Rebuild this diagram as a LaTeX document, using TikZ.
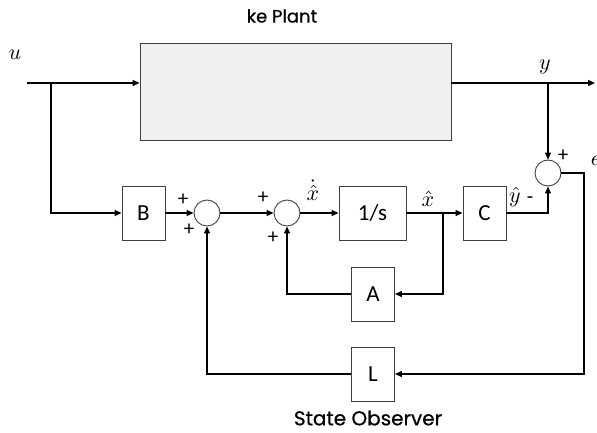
\documentclass[tikz,border=0pt]{standalone}
\usepackage{fontspec}
\setmainfont{Carlito}
\newfontfamily\titlefont{Poppins}[FakeBold=0.6]
\usetikzlibrary{arrows.meta}
\newcommand{\mylbl}[1]{\scalebox{2.2}{$#1$}}
\begin{document}
\begin{tikzpicture}[x=1pt,y=-1pt,
  blk/.style={draw=black!75,line width=0.9pt,minimum width=43pt,minimum height=54pt,inner sep=0pt,font=\fontsize{23}{26}\selectfont},
  sumnode/.style={circle,draw=black!75,line width=0.9pt,minimum size=26pt,inner sep=0pt},
  sig/.style={line width=1.4pt,-{Triangle[length=7pt,width=6pt]}},
  lbl/.style={font=\fontsize{21}{23}\selectfont,inner sep=0pt},
  mlbl/.style={font=\normalsize,inner sep=0pt}]
\useasboundingbox (0,0) rectangle (597,433);
% plant
\node[draw=black!75,fill=black!6,line width=0.9pt,minimum width=311pt,minimum height=97pt,inner sep=0pt] (plant) at (295.5,91.5) {};
\node[font=\titlefont\fontsize{18}{20}\selectfont] (ptitle) at (282,16) {ke Plant};
% blocks
\node[blk] (B) at (143.5,213) {B};
\node[sumnode] (s1) at (207,213) {};
\node[sumnode] (s2) at (287,213) {};
\node[blk,minimum width=67pt] (I) at (372.5,213) {1/s};
\node[blk] (C) at (484.5,213) {C};
\node[sumnode] (s3) at (548,173) {};
\node[blk] (A) at (373,294) {A};
\node[blk] (L) at (373,374) {L};
\node[font=\titlefont\fontsize{20}{22}\selectfont] (sobs) at (368,418) {State Observer};
% coordinates
\coordinate (uin) at (27,83);
\coordinate (ub) at (51,83);
\coordinate (uB) at (51,213);
\coordinate (yb) at (548,83);
\coordinate (yout) at (595,83);
\coordinate (xb) at (443,213);
\coordinate (xbA) at (443,294);
\coordinate (As) at (287,294);
\coordinate (Ls) at (207,374);
\coordinate (ec) at (584,173);
\coordinate (eL) at (584,374);
\coordinate (yh) at (548,213);
% connectors
\draw[sig] (uin) -- (uin -| plant.west);
\draw[sig] (ub) -- (uB) -- (B.west);
\draw[sig] (plant.east |- yout) -- (yout);
\draw[sig] (yb) -- (s3.north);
\draw[sig] (B.east) -- (s1.west);
\draw[sig] (s1.east) -- (s2.west);
\draw[sig] (s2.east) -- (I.west);
\draw[sig] (I.east) -- (C.west);
\draw[sig] (C.east) -- (yh) -- (s3.south);
\draw[sig] (xb) -- (xbA) -- (A.east);
\draw[sig] (A.west) -- (As) -- (s2.south);
\draw[sig] (s3.east) -- (ec) -- (eL) -- (L.east);
\draw[sig] (L.west) -- (Ls) -- (s1.south);
% labels
\node[mlbl] (lu) at (15,55) {\mylbl{u}};
\node[mlbl] (ly) at (545,67) {\mylbl{y}};
\node[mlbl] (le) at (596,161) {\mylbl{e}};
\node[mlbl] (lxd) at (313,190) {\mylbl{\dot{\hat{x}}}};
\node[mlbl] (lx) at (428,199) {\mylbl{\hat{x}}};
\node[mlbl] (lyh) at (515,197) {\mylbl{\hat{y}}};
\node[lbl] (lm) at (530,200) {-};
\node[lbl] (p1) at (183,200) {+};
\node[lbl] (p2) at (189,230) {+};
\node[lbl] (p3) at (263,198) {+};
\node[lbl] (p4) at (273,238) {+};
\node[lbl] (p5) at (563,156) {+};
\end{tikzpicture}
\end{document}
